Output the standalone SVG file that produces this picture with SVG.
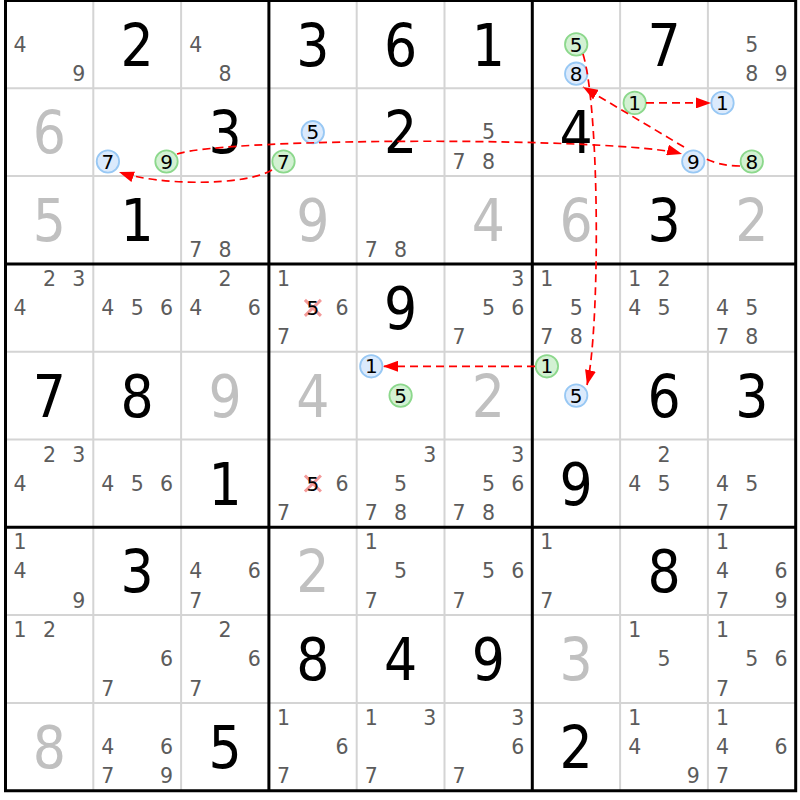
<svg xmlns="http://www.w3.org/2000/svg" width="800" height="800" viewBox="0 0 800 800">
<style>
text{font-family:"DejaVu Sans Condensed","DejaVu Sans",sans-serif;text-anchor:middle}
.g{font-size:58px;fill:#000}
.s{font-size:58px;fill:#c0c0c0}
.c{font-family:"DejaVu Sans",sans-serif;font-size:20.5px;fill:#5c5c5c}
.k{font-family:"DejaVu Sans",sans-serif;font-size:20px;fill:#000}
.cb{fill:#dbeafc;stroke:#98c8f4;stroke-width:1.8}
.cg{fill:#d3f1d3;stroke:#8cd88c;stroke-width:1.8}
.thin{stroke:#d4d4d4;stroke-width:2}
.thick{stroke:#000;stroke-width:3}
.x{stroke:#f39a9a;stroke-width:3}
.lk{fill:none;stroke:#ff0000;stroke-width:1.7;stroke-dasharray:8,5}
</style>
<defs>
<marker id="ah" markerUnits="userSpaceOnUse" markerWidth="15" markerHeight="11" refX="15" refY="5.5" orient="auto">
<path d="M0,0 L15,5.5 L0,11 z" fill="#ff0000"/>
</marker>
</defs>
<rect width="800" height="800" fill="#fff"/>
<g id="grid">
<path class="thin" d="M93.3,0.5V790.7M181.1,0.5V790.7M356.7,0.5V790.7M444.5,0.5V790.7M620.1,0.5V790.7M707.9,0.5V790.7M5.5,88.3H795.7M5.5,176.1H795.7M5.5,351.7H795.7M5.5,439.5H795.7M5.5,615.1H795.7M5.5,702.9H795.7"/>
<path class="thick" fill="none" d="M5.5,0.5V790.7M268.9,0.5V790.7M532.3,0.5V790.7M795.7,0.5V790.7M4,0.5H797.2M4,263.9H797.2M4,527.3H797.2M4,790.7H797.2"/>
</g>
<g id="r0c0" transform="translate(5.5,0.5)"><text class="c" x="14.6" y="51.2">4</text><text class="c" x="73.2" y="80.5">9</text></g>
<g id="r0c1" transform="translate(93.3,0.5)"><text class="g" x="43.9" y="65">2</text></g>
<g id="r0c2" transform="translate(181.1,0.5)"><text class="c" x="14.6" y="51.2">4</text><text class="c" x="43.9" y="80.5">8</text></g>
<g id="r0c3" transform="translate(268.9,0.5)"><text class="g" x="43.9" y="65">3</text></g>
<g id="r0c4" transform="translate(356.7,0.5)"><text class="g" x="43.9" y="65">6</text></g>
<g id="r0c5" transform="translate(444.5,0.5)"><text class="g" x="43.9" y="65">1</text></g>
<g id="r0c6" transform="translate(532.3,0.5)"><circle class="cg" cx="43.9" cy="43.9" r="11.2"/><text class="k" x="43.9" y="51.1">5</text><circle class="cb" cx="43.9" cy="73.2" r="11.2"/><text class="k" x="43.9" y="80.4">8</text></g>
<g id="r0c7" transform="translate(620.1,0.5)"><text class="g" x="43.9" y="65">7</text></g>
<g id="r0c8" transform="translate(707.9,0.5)"><text class="c" x="43.9" y="51.2">5</text><text class="c" x="43.9" y="80.5">8</text><text class="c" x="73.2" y="80.5">9</text></g>
<g id="r1c0" transform="translate(5.5,88.3)"><text class="s" x="43.9" y="65">6</text></g>
<g id="r1c1" transform="translate(93.3,88.3)"><circle class="cb" cx="14.6" cy="73.2" r="11.2"/><text class="k" x="14.6" y="80.4">7</text><circle class="cg" cx="73.2" cy="73.2" r="11.2"/><text class="k" x="73.2" y="80.4">9</text></g>
<g id="r1c2" transform="translate(181.1,88.3)"><text class="g" x="43.9" y="65">3</text></g>
<g id="r1c3" transform="translate(268.9,88.3)"><circle class="cb" cx="43.9" cy="43.9" r="11.2"/><text class="k" x="43.9" y="51.1">5</text><circle class="cg" cx="14.6" cy="73.2" r="11.2"/><text class="k" x="14.6" y="80.4">7</text></g>
<g id="r1c4" transform="translate(356.7,88.3)"><text class="g" x="43.9" y="65">2</text></g>
<g id="r1c5" transform="translate(444.5,88.3)"><text class="c" x="43.9" y="51.2">5</text><text class="c" x="14.6" y="80.5">7</text><text class="c" x="43.9" y="80.5">8</text></g>
<g id="r1c6" transform="translate(532.3,88.3)"><text class="g" x="43.9" y="65">4</text></g>
<g id="r1c7" transform="translate(620.1,88.3)"><circle class="cg" cx="14.6" cy="14.6" r="11.2"/><text class="k" x="14.6" y="21.8">1</text><circle class="cb" cx="73.2" cy="73.2" r="11.2"/><text class="k" x="73.2" y="80.4">9</text></g>
<g id="r1c8" transform="translate(707.9,88.3)"><circle class="cb" cx="14.6" cy="14.6" r="11.2"/><text class="k" x="14.6" y="21.8">1</text><circle class="cg" cx="43.9" cy="73.2" r="11.2"/><text class="k" x="43.9" y="80.4">8</text></g>
<g id="r2c0" transform="translate(5.5,176.1)"><text class="s" x="43.9" y="65">5</text></g>
<g id="r2c1" transform="translate(93.3,176.1)"><text class="g" x="43.9" y="65">1</text></g>
<g id="r2c2" transform="translate(181.1,176.1)"><text class="c" x="14.6" y="80.5">7</text><text class="c" x="43.9" y="80.5">8</text></g>
<g id="r2c3" transform="translate(268.9,176.1)"><text class="s" x="43.9" y="65">9</text></g>
<g id="r2c4" transform="translate(356.7,176.1)"><text class="c" x="14.6" y="80.5">7</text><text class="c" x="43.9" y="80.5">8</text></g>
<g id="r2c5" transform="translate(444.5,176.1)"><text class="s" x="43.9" y="65">4</text></g>
<g id="r2c6" transform="translate(532.3,176.1)"><text class="s" x="43.9" y="65">6</text></g>
<g id="r2c7" transform="translate(620.1,176.1)"><text class="g" x="43.9" y="65">3</text></g>
<g id="r2c8" transform="translate(707.9,176.1)"><text class="s" x="43.9" y="65">2</text></g>
<g id="r3c0" transform="translate(5.5,263.9)"><text class="c" x="43.9" y="22">2</text><text class="c" x="73.2" y="22">3</text><text class="c" x="14.6" y="51.2">4</text></g>
<g id="r3c1" transform="translate(93.3,263.9)"><text class="c" x="14.6" y="51.2">4</text><text class="c" x="43.9" y="51.2">5</text><text class="c" x="73.2" y="51.2">6</text></g>
<g id="r3c2" transform="translate(181.1,263.9)"><text class="c" x="43.9" y="22">2</text><text class="c" x="14.6" y="51.2">4</text><text class="c" x="73.2" y="51.2">6</text></g>
<g id="r3c3" transform="translate(268.9,263.9)"><text class="c" x="14.6" y="22">1</text><path class="x" d="M36,36L52,52M52,36L36,52"/><text class="k" x="43.9" y="51.2">5</text><text class="c" x="73.2" y="51.2">6</text><text class="c" x="14.6" y="80.5">7</text></g>
<g id="r3c4" transform="translate(356.7,263.9)"><text class="g" x="43.9" y="65">9</text></g>
<g id="r3c5" transform="translate(444.5,263.9)"><text class="c" x="73.2" y="22">3</text><text class="c" x="43.9" y="51.2">5</text><text class="c" x="73.2" y="51.2">6</text><text class="c" x="14.6" y="80.5">7</text></g>
<g id="r3c6" transform="translate(532.3,263.9)"><text class="c" x="14.6" y="22">1</text><text class="c" x="43.9" y="51.2">5</text><text class="c" x="14.6" y="80.5">7</text><text class="c" x="43.9" y="80.5">8</text></g>
<g id="r3c7" transform="translate(620.1,263.9)"><text class="c" x="14.6" y="22">1</text><text class="c" x="43.9" y="22">2</text><text class="c" x="14.6" y="51.2">4</text><text class="c" x="43.9" y="51.2">5</text></g>
<g id="r3c8" transform="translate(707.9,263.9)"><text class="c" x="14.6" y="51.2">4</text><text class="c" x="43.9" y="51.2">5</text><text class="c" x="14.6" y="80.5">7</text><text class="c" x="43.9" y="80.5">8</text></g>
<g id="r4c0" transform="translate(5.5,351.7)"><text class="g" x="43.9" y="65">7</text></g>
<g id="r4c1" transform="translate(93.3,351.7)"><text class="g" x="43.9" y="65">8</text></g>
<g id="r4c2" transform="translate(181.1,351.7)"><text class="s" x="43.9" y="65">9</text></g>
<g id="r4c3" transform="translate(268.9,351.7)"><text class="s" x="43.9" y="65">4</text></g>
<g id="r4c4" transform="translate(356.7,351.7)"><circle class="cb" cx="14.6" cy="14.6" r="11.2"/><text class="k" x="14.6" y="21.8">1</text><circle class="cg" cx="43.9" cy="43.9" r="11.2"/><text class="k" x="43.9" y="51.1">5</text></g>
<g id="r4c5" transform="translate(444.5,351.7)"><text class="s" x="43.9" y="65">2</text></g>
<g id="r4c6" transform="translate(532.3,351.7)"><circle class="cg" cx="14.6" cy="14.6" r="11.2"/><text class="k" x="14.6" y="21.8">1</text><circle class="cb" cx="43.9" cy="43.9" r="11.2"/><text class="k" x="43.9" y="51.1">5</text></g>
<g id="r4c7" transform="translate(620.1,351.7)"><text class="g" x="43.9" y="65">6</text></g>
<g id="r4c8" transform="translate(707.9,351.7)"><text class="g" x="43.9" y="65">3</text></g>
<g id="r5c0" transform="translate(5.5,439.5)"><text class="c" x="43.9" y="22">2</text><text class="c" x="73.2" y="22">3</text><text class="c" x="14.6" y="51.2">4</text></g>
<g id="r5c1" transform="translate(93.3,439.5)"><text class="c" x="14.6" y="51.2">4</text><text class="c" x="43.9" y="51.2">5</text><text class="c" x="73.2" y="51.2">6</text></g>
<g id="r5c2" transform="translate(181.1,439.5)"><text class="g" x="43.9" y="65">1</text></g>
<g id="r5c3" transform="translate(268.9,439.5)"><path class="x" d="M36,36L52,52M52,36L36,52"/><text class="k" x="43.9" y="51.2">5</text><text class="c" x="73.2" y="51.2">6</text><text class="c" x="14.6" y="80.5">7</text></g>
<g id="r5c4" transform="translate(356.7,439.5)"><text class="c" x="73.2" y="22">3</text><text class="c" x="43.9" y="51.2">5</text><text class="c" x="14.6" y="80.5">7</text><text class="c" x="43.9" y="80.5">8</text></g>
<g id="r5c5" transform="translate(444.5,439.5)"><text class="c" x="73.2" y="22">3</text><text class="c" x="43.9" y="51.2">5</text><text class="c" x="73.2" y="51.2">6</text><text class="c" x="14.6" y="80.5">7</text><text class="c" x="43.9" y="80.5">8</text></g>
<g id="r5c6" transform="translate(532.3,439.5)"><text class="g" x="43.9" y="65">9</text></g>
<g id="r5c7" transform="translate(620.1,439.5)"><text class="c" x="43.9" y="22">2</text><text class="c" x="14.6" y="51.2">4</text><text class="c" x="43.9" y="51.2">5</text></g>
<g id="r5c8" transform="translate(707.9,439.5)"><text class="c" x="14.6" y="51.2">4</text><text class="c" x="43.9" y="51.2">5</text><text class="c" x="14.6" y="80.5">7</text></g>
<g id="r6c0" transform="translate(5.5,527.3)"><text class="c" x="14.6" y="22">1</text><text class="c" x="14.6" y="51.2">4</text><text class="c" x="73.2" y="80.5">9</text></g>
<g id="r6c1" transform="translate(93.3,527.3)"><text class="g" x="43.9" y="65">3</text></g>
<g id="r6c2" transform="translate(181.1,527.3)"><text class="c" x="14.6" y="51.2">4</text><text class="c" x="73.2" y="51.2">6</text><text class="c" x="14.6" y="80.5">7</text></g>
<g id="r6c3" transform="translate(268.9,527.3)"><text class="s" x="43.9" y="65">2</text></g>
<g id="r6c4" transform="translate(356.7,527.3)"><text class="c" x="14.6" y="22">1</text><text class="c" x="43.9" y="51.2">5</text><text class="c" x="14.6" y="80.5">7</text></g>
<g id="r6c5" transform="translate(444.5,527.3)"><text class="c" x="43.9" y="51.2">5</text><text class="c" x="73.2" y="51.2">6</text><text class="c" x="14.6" y="80.5">7</text></g>
<g id="r6c6" transform="translate(532.3,527.3)"><text class="c" x="14.6" y="22">1</text><text class="c" x="14.6" y="80.5">7</text></g>
<g id="r6c7" transform="translate(620.1,527.3)"><text class="g" x="43.9" y="65">8</text></g>
<g id="r6c8" transform="translate(707.9,527.3)"><text class="c" x="14.6" y="22">1</text><text class="c" x="14.6" y="51.2">4</text><text class="c" x="73.2" y="51.2">6</text><text class="c" x="14.6" y="80.5">7</text><text class="c" x="73.2" y="80.5">9</text></g>
<g id="r7c0" transform="translate(5.5,615.1)"><text class="c" x="14.6" y="22">1</text><text class="c" x="43.9" y="22">2</text></g>
<g id="r7c1" transform="translate(93.3,615.1)"><text class="c" x="73.2" y="51.2">6</text><text class="c" x="14.6" y="80.5">7</text></g>
<g id="r7c2" transform="translate(181.1,615.1)"><text class="c" x="43.9" y="22">2</text><text class="c" x="73.2" y="51.2">6</text><text class="c" x="14.6" y="80.5">7</text></g>
<g id="r7c3" transform="translate(268.9,615.1)"><text class="g" x="43.9" y="65">8</text></g>
<g id="r7c4" transform="translate(356.7,615.1)"><text class="g" x="43.9" y="65">4</text></g>
<g id="r7c5" transform="translate(444.5,615.1)"><text class="g" x="43.9" y="65">9</text></g>
<g id="r7c6" transform="translate(532.3,615.1)"><text class="s" x="43.9" y="65">3</text></g>
<g id="r7c7" transform="translate(620.1,615.1)"><text class="c" x="14.6" y="22">1</text><text class="c" x="43.9" y="51.2">5</text></g>
<g id="r7c8" transform="translate(707.9,615.1)"><text class="c" x="14.6" y="22">1</text><text class="c" x="43.9" y="51.2">5</text><text class="c" x="73.2" y="51.2">6</text><text class="c" x="14.6" y="80.5">7</text></g>
<g id="r8c0" transform="translate(5.5,702.9)"><text class="s" x="43.9" y="65">8</text></g>
<g id="r8c1" transform="translate(93.3,702.9)"><text class="c" x="14.6" y="51.2">4</text><text class="c" x="73.2" y="51.2">6</text><text class="c" x="14.6" y="80.5">7</text><text class="c" x="73.2" y="80.5">9</text></g>
<g id="r8c2" transform="translate(181.1,702.9)"><text class="g" x="43.9" y="65">5</text></g>
<g id="r8c3" transform="translate(268.9,702.9)"><text class="c" x="14.6" y="22">1</text><text class="c" x="73.2" y="51.2">6</text><text class="c" x="14.6" y="80.5">7</text></g>
<g id="r8c4" transform="translate(356.7,702.9)"><text class="c" x="14.6" y="22">1</text><text class="c" x="73.2" y="22">3</text><text class="c" x="14.6" y="80.5">7</text></g>
<g id="r8c5" transform="translate(444.5,702.9)"><text class="c" x="73.2" y="22">3</text><text class="c" x="73.2" y="51.2">6</text><text class="c" x="14.6" y="80.5">7</text></g>
<g id="r8c6" transform="translate(532.3,702.9)"><text class="g" x="43.9" y="65">2</text></g>
<g id="r8c7" transform="translate(620.1,702.9)"><text class="c" x="14.6" y="22">1</text><text class="c" x="14.6" y="51.2">4</text><text class="c" x="73.2" y="80.5">9</text></g>
<g id="r8c8" transform="translate(707.9,702.9)"><text class="c" x="14.6" y="22">1</text><text class="c" x="14.6" y="51.2">4</text><text class="c" x="73.2" y="51.2">6</text><text class="c" x="14.6" y="80.5">7</text></g>
<g id="connectors">
<path class="lk" marker-end="url(#ah)" d="M177,154 C230,137 620,137 682,154"/>
<path class="lk" marker-end="url(#ah)" d="M272,170 C245,186 160,186 119,172"/>
<path class="lk" marker-end="url(#ah)" d="M583,54 C600,110 600,330 587,385"/>
<path class="lk" marker-end="url(#ah)" d="M646,102.9 L711,102.9"/>
<path class="lk" marker-end="url(#ah)" d="M535,366.3 L383,366.3"/>
<path class="lk" marker-end="url(#ah)" d="M740,166 Q720,166 704,158 M684,147 L583,87"/>
</g>
</svg>
